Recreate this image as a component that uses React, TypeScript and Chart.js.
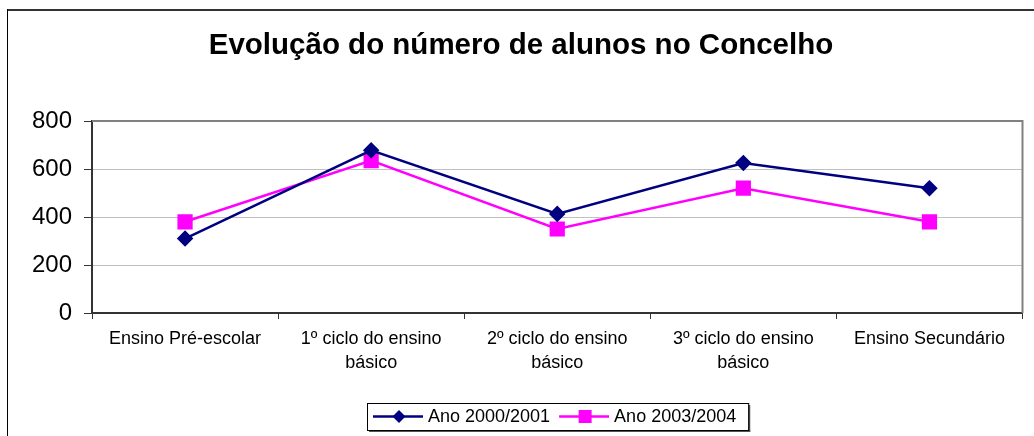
import React, { useEffect, useRef } from "react";
import { Chart, registerables } from "chart.js";

Chart.register(...registerables);

const TITLE = "Evolução do número de alunos no Concelho";
const CATEGORIES: (string | string[])[] = [
  "Ensino Pré-escolar",
  ["1º ciclo do ensino", "básico"],
  ["2º ciclo do ensino", "básico"],
  ["3º ciclo do ensino", "básico"],
  "Ensino Secundário",
];
const SERIES_NAMES = ["Ano 2000/2001", "Ano 2003/2004"];
const VALUES_2000 = [310, 678, 413, 625, 520];
const VALUES_2003 = [380, 635, 350, 520, 380];
const Y_TICKS = [0, 200, 400, 600, 800];

const FONT = "'Liberation Sans', Arial, Helvetica, sans-serif";

const decorPlugin = {
  id: "decor",
  beforeDatasetsDraw(chart: any) {
    const { ctx, chartArea } = chart;
    ctx.save();
    ctx.strokeStyle = "#808080";
    ctx.lineWidth = 2;
    ctx.beginPath();
    ctx.moveTo(chartArea.left, chartArea.top);
    ctx.lineTo(chartArea.right, chartArea.top);
    ctx.lineTo(chartArea.right, chartArea.bottom);
    ctx.stroke();
    ctx.restore();
  },
  afterDraw(chart: any) {
    const { ctx } = chart;
    ctx.save();
    // outer frame
    ctx.fillStyle = "#333333";
    ctx.fillRect(7, 9, 1034 - 7, 2);
    ctx.fillStyle = "#000000";
    ctx.fillRect(7, 9, 1, 436 - 9);

    // title
    ctx.fillStyle = "#000";
    ctx.font = `bold 29.5px ${FONT}`;
    ctx.textAlign = "center";
    ctx.textBaseline = "alphabetic";
    ctx.fillText(TITLE, 521, 54);

    // legend
    ctx.font = `18px ${FONT}`;
    ctx.textAlign = "left";
    ctx.textBaseline = "middle";
    const boxLeft = 367;
    const boxTop = 403;
    const boxH = 27;
    const cy = boxTop + boxH / 2;
    let x = boxLeft + 6;
    const datasets = chart.data.datasets;
    datasets.forEach((ds: any, i: number) => {
      ctx.strokeStyle = ds.borderColor;
      ctx.lineWidth = 2.5;
      ctx.beginPath();
      ctx.moveTo(x, cy);
      ctx.lineTo(x + 50, cy);
      ctx.stroke();
      ctx.fillStyle = ds.pointBackgroundColor;
      const mx = x + 26;
      if (ds.pointStyle === "rectRot") {
        ctx.beginPath();
        ctx.moveTo(mx, cy - 6.5);
        ctx.lineTo(mx + 6.5, cy);
        ctx.lineTo(mx, cy + 6.5);
        ctx.lineTo(mx - 6.5, cy);
        ctx.closePath();
        ctx.fill();
      } else {
        ctx.fillRect(mx - 6.5, cy - 6.5, 13, 13);
      }
      ctx.fillStyle = "#000";
      ctx.fillText(ds.label, x + 55, cy + 1);
      x += 55 + ctx.measureText(ds.label).width;
      if (i < datasets.length - 1) x += 9;
    });
    const boxRight = x + 12;
    ctx.fillStyle = "#555";
    ctx.fillRect(boxLeft + 2, boxTop + boxH, boxRight - boxLeft, 2);
    ctx.fillRect(boxRight, boxTop + 2, 2, boxH);
    ctx.strokeStyle = "#000";
    ctx.lineWidth = 1;
    ctx.strokeRect(boxLeft + 0.5, boxTop + 0.5, boxRight - boxLeft, boxH);
    ctx.restore();
  },
};

export default function App() {
  const ref = useRef<HTMLCanvasElement | null>(null);
  useEffect(() => {
    if (!ref.current) return;
    const chart = new Chart(ref.current, {
      type: "line",
      data: {
        labels: CATEGORIES,
        datasets: [
          {
            label: SERIES_NAMES[0],
            data: VALUES_2000,
            borderColor: "#000080",
            backgroundColor: "#000080",
            pointBackgroundColor: "#000080",
            pointBorderColor: "#000080",
            borderWidth: 2.5,
            pointStyle: "rectRot",
            pointRadius: 6.5,
            pointHoverRadius: 6.5,
            tension: 0,
          },
          {
            label: SERIES_NAMES[1],
            data: VALUES_2003,
            borderColor: "#FF00FF",
            backgroundColor: "#FF00FF",
            pointBackgroundColor: "#FF00FF",
            pointBorderColor: "#FF00FF",
            borderWidth: 2.5,
            pointStyle: "rect",
            pointRadius: 9,
            pointHoverRadius: 9,
            tension: 0,
          },
        ],
      },
      options: {
        responsive: false,
        animation: false,
        devicePixelRatio: 1,
        layout: { padding: { top: 121, right: 8, left: 0, bottom: 0 } },
        plugins: {
          legend: { display: false },
          title: { display: false },
          tooltip: { enabled: false },
        },
        scales: {
          x: {
            type: "category",
            offset: true,
            afterFit: (s: any) => {
              s.height = 123;
            },
            grid: {
              display: true,
              offset: true,
              drawOnChartArea: false,
              drawTicks: true,
              tickLength: 6,
              tickColor: "#333",
              tickWidth: 1,
            },
            border: { display: true, color: "#333", width: 2 },
            ticks: {
              color: "#000",
              font: { family: FONT, size: 18, lineHeight: 1.28 },
              padding: 9,
              maxRotation: 0,
              autoSkip: false,
            },
          },
          y: {
            min: 0,
            max: 800,
            afterFit: (s: any) => {
              s.width = 92;
            },
            afterBuildTicks: (s: any) => {
              s.ticks = Y_TICKS.map((v) => ({ value: v }));
            },
            grid: {
              color: "#c0c0c0",
              lineWidth: 1,
              tickLength: 8,
              tickColor: "#333",
            },
            border: { display: true, color: "#333", width: 2 },
            ticks: {
              color: "#000",
              font: { family: FONT, size: 24 },
              padding: 12,
            },
          },
        },
      },
      plugins: [decorPlugin],
    });
    return () => chart.destroy();
  }, []);

  return (
    <div style={{ position: "fixed", left: 0, top: 0, width: 1034, height: 436, background: "#fff" }}>
      <canvas ref={ref} width={1034} height={436} style={{ display: "block", width: 1034, height: 436 }} />
    </div>
  );
}
